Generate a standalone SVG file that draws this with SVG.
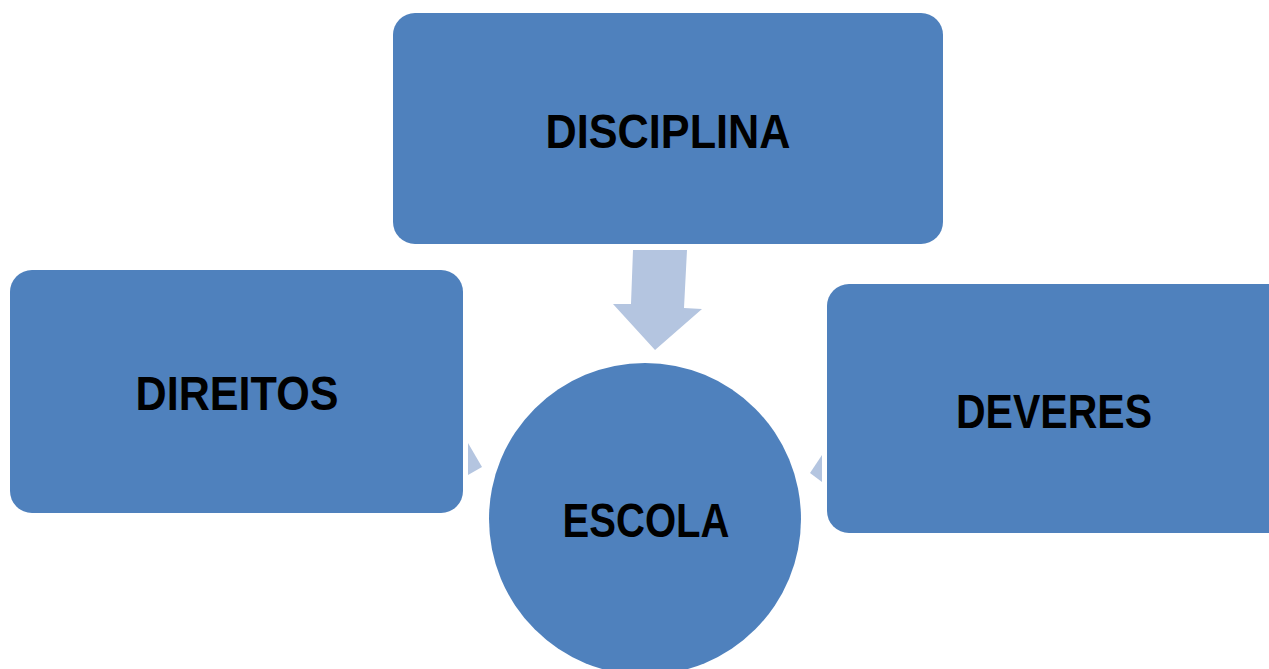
<svg xmlns="http://www.w3.org/2000/svg" width="1269" height="669" viewBox="0 0 1269 669">
<style>
.n{fill:#4F81BD}
.c{fill:#B4C5E0}
.t{font-family:"Liberation Sans",Arial,sans-serif;font-weight:bold;font-size:48px;fill:#000;text-anchor:middle}
</style>
<rect width="1269" height="669" fill="#fff"/>
<g id="connectors">
<polygon class="c" points="633,250 687,250 684,308 702,309 655,350 613,304 631,304"/>
<polygon class="c" points="468,443 482,467 468,475"/>
<polygon class="c" points="822,455 810,473 822,482"/>
</g>
<g id="disciplina"><rect class="n" x="393" y="13" width="550" height="231" rx="22"/><text class="t" x="668" y="148" textLength="245" lengthAdjust="spacingAndGlyphs">DISCIPLINA</text></g>
<g id="direitos"><rect class="n" x="10" y="270" width="453" height="243" rx="22"/><text class="t" x="237" y="410" textLength="203" lengthAdjust="spacingAndGlyphs">DIREITOS</text></g>
<g id="deveres"><rect class="n" x="827" y="284" width="470" height="249" rx="22"/><text class="t" x="1054" y="428" textLength="196" lengthAdjust="spacingAndGlyphs">DEVERES</text></g>
<g id="escola"><circle class="n" cx="645" cy="519" r="156"/><text class="t" x="646" y="537" textLength="167" lengthAdjust="spacingAndGlyphs">ESCOLA</text></g>
</svg>
